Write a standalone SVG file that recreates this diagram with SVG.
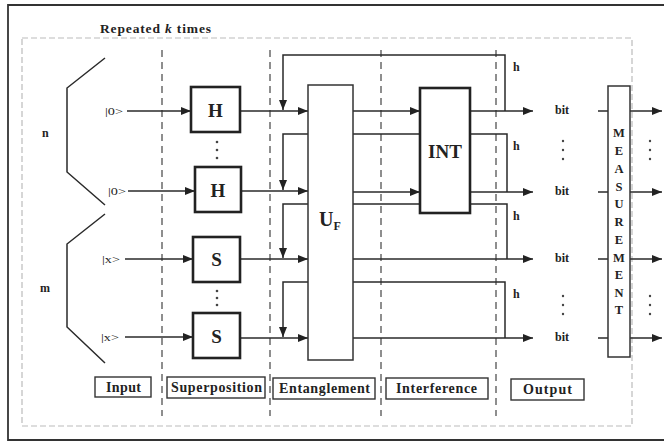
<svg xmlns="http://www.w3.org/2000/svg" width="664" height="441" viewBox="0 0 664 441">
<defs>
<marker id="ah" viewBox="0 0 10 8" refX="10" refY="4" markerWidth="10" markerHeight="8" markerUnits="userSpaceOnUse" orient="auto">
<path d="M0,0 L10,4 L0,8 Z" fill="#222"/>
</marker>
<style>
.ln{fill:none;stroke:#2a2a2a;stroke-width:1.5}
.dash{fill:none;stroke:#444;stroke-width:1.2;stroke-dasharray:7,5}
.frame{fill:none;stroke:#bbb;stroke-width:1.2;stroke-dasharray:6,3}
.gate{fill:#fff;stroke:#222;stroke-width:2.6}
.box{fill:#fff;stroke:#333;stroke-width:1.5}
.lbl{fill:#fff;stroke:#333;stroke-width:1.4}
.t{font-family:"Liberation Serif",serif;font-weight:bold;fill:#222}
.r{font-family:"Liberation Serif",serif;fill:#222}
.dot{fill:#444}
</style>
</defs>
<rect x="0" y="0" width="664" height="441" fill="#fff"/>
<path d="M670,5 H8 V440 H670" fill="none" stroke="#333" stroke-width="1.8"/>
<rect x="22" y="38" width="610" height="388" class="frame"/>
<text x="100" y="33" class="t" font-size="13.5" textLength="111" lengthAdjust="spacing">Repeated <tspan font-style="italic">k</tspan> times</text>

<g id="stage-dividers">
<line x1="162" y1="50" x2="162" y2="416" class="dash"/>
<line x1="270" y1="50" x2="270" y2="416" class="dash"/>
<line x1="381" y1="50" x2="381" y2="416" class="dash"/>
<line x1="496" y1="50" x2="496" y2="416" class="dash"/>
</g>

<g id="brackets">
<polyline points="105,58 67,88 67,172 105,205" class="ln"/>
<polyline points="105,214 67,244 67,327 105,363" class="ln"/>
<text x="42" y="137" class="t" font-size="12">n</text>
<text x="40" y="292" class="t" font-size="12">m</text>
</g>

<g id="connectors">
<line x1="127" y1="111" x2="191" y2="111" class="ln" marker-end="url(#ah)"/>
<line x1="128" y1="191" x2="195" y2="191" class="ln" marker-end="url(#ah)"/>
<line x1="125" y1="259" x2="193" y2="259" class="ln" marker-end="url(#ah)"/>
<line x1="125" y1="337" x2="193" y2="337" class="ln" marker-end="url(#ah)"/>
<path d="M505,111 V55 H283 V110" class="ln" marker-end="url(#ah)"/>
<path d="M507,192 V134 H283 V190" class="ln" marker-end="url(#ah)"/>
<path d="M507,259 V204 H283 V258" class="ln" marker-end="url(#ah)"/>
<path d="M505,338 V282 H283 V337" class="ln" marker-end="url(#ah)"/>
<line x1="240" y1="111" x2="308" y2="111" class="ln" marker-end="url(#ah)"/>
<line x1="241" y1="191" x2="308" y2="191" class="ln" marker-end="url(#ah)"/>
<line x1="240" y1="259" x2="308" y2="259" class="ln" marker-end="url(#ah)"/>
<line x1="240" y1="338" x2="308" y2="338" class="ln" marker-end="url(#ah)"/>
<line x1="353" y1="111" x2="420" y2="111" class="ln" marker-end="url(#ah)"/>
<line x1="353" y1="192" x2="420" y2="192" class="ln" marker-end="url(#ah)"/>
<line x1="470" y1="111" x2="533" y2="111" class="ln" marker-end="url(#ah)"/>
<line x1="470" y1="192" x2="533" y2="192" class="ln" marker-end="url(#ah)"/>
<line x1="353" y1="259" x2="533" y2="259" class="ln" marker-end="url(#ah)"/>
<line x1="353" y1="338" x2="533" y2="338" class="ln" marker-end="url(#ah)"/>
<line x1="598" y1="111" x2="608" y2="111" class="ln"/>
<line x1="598" y1="192" x2="608" y2="192" class="ln"/>
<line x1="598" y1="259" x2="608" y2="259" class="ln"/>
<line x1="598" y1="338" x2="608" y2="338" class="ln"/>
<line x1="630" y1="111" x2="662" y2="111" class="ln" marker-end="url(#ah)"/>
<line x1="630" y1="192" x2="662" y2="192" class="ln" marker-end="url(#ah)"/>
<line x1="630" y1="259" x2="662" y2="259" class="ln" marker-end="url(#ah)"/>
<line x1="630" y1="338" x2="662" y2="338" class="ln" marker-end="url(#ah)"/>
<text x="513" y="71" class="t" font-size="12">h</text>
<text x="513" y="150" class="t" font-size="12">h</text>
<text x="513" y="220" class="t" font-size="12">h</text>
<text x="513" y="298" class="t" font-size="12">h</text>
</g>

<g id="inputs">
<text x="105" y="115" class="r" font-size="11" textLength="18" lengthAdjust="spacingAndGlyphs">|0&gt;</text>
<text x="108" y="195" class="r" font-size="11" textLength="18" lengthAdjust="spacingAndGlyphs">|0&gt;</text>
<text x="102" y="263" class="r" font-size="11" textLength="18" lengthAdjust="spacingAndGlyphs">|x&gt;</text>
<text x="101" y="341" class="r" font-size="11" textLength="18" lengthAdjust="spacingAndGlyphs">|x&gt;</text>
</g>

<g id="H1"><rect x="191" y="87" width="49" height="45" class="gate"/><text x="215.5" y="117" text-anchor="middle" class="t" font-size="19">H</text></g>
<g id="H2"><rect x="195" y="167" width="46" height="45" class="gate"/><text x="218" y="197" text-anchor="middle" class="t" font-size="19">H</text></g>
<g id="S1"><rect x="193" y="237" width="47" height="45" class="gate"/><text x="216.5" y="266" text-anchor="middle" class="t" font-size="19">S</text></g>
<g id="S2"><rect x="193" y="313" width="47" height="45" class="gate"/><text x="216.5" y="343" text-anchor="middle" class="t" font-size="19">S</text></g>
<g id="dots-gates">
<circle cx="217" cy="142" r="1.3" class="dot"/><circle cx="217" cy="150" r="1.3" class="dot"/><circle cx="217" cy="158" r="1.3" class="dot"/>
<circle cx="217" cy="291" r="1.3" class="dot"/><circle cx="217" cy="298" r="1.3" class="dot"/><circle cx="217" cy="305" r="1.3" class="dot"/>
</g>

<g id="UF"><rect x="308" y="85" width="45" height="275" class="box"/><text x="319" y="226" class="t" font-size="20">U<tspan font-size="12" dy="4">F</tspan></text></g>
<g id="INT"><rect x="420" y="88" width="50" height="125" class="gate"/><text x="445" y="158" text-anchor="middle" class="t" font-size="19">INT</text></g>

<g id="bits">
<text x="555" y="114" class="t" font-size="12">bit</text>
<text x="555" y="195" class="t" font-size="12">bit</text>
<text x="555" y="262" class="t" font-size="12">bit</text>
<text x="555" y="341" class="t" font-size="12">bit</text>
<circle cx="563" cy="141" r="1.2" class="dot"/><circle cx="563" cy="150" r="1.2" class="dot"/><circle cx="563" cy="159" r="1.2" class="dot"/>
<circle cx="563" cy="296" r="1.2" class="dot"/><circle cx="563" cy="305" r="1.2" class="dot"/><circle cx="563" cy="314" r="1.2" class="dot"/>
<circle cx="650" cy="141" r="1.2" class="dot"/><circle cx="650" cy="150" r="1.2" class="dot"/><circle cx="650" cy="159" r="1.2" class="dot"/>
<circle cx="650" cy="296" r="1.2" class="dot"/><circle cx="650" cy="305" r="1.2" class="dot"/><circle cx="650" cy="314" r="1.2" class="dot"/>
</g>

<g id="measurement">
<rect x="608" y="86" width="22" height="271" class="box"/>
<g class="t" font-size="12.5" text-anchor="middle">
<text x="619" y="137">M</text><text x="619" y="155">E</text><text x="619" y="173">A</text><text x="619" y="191">S</text><text x="619" y="208">U</text><text x="619" y="226">R</text><text x="619" y="244">E</text><text x="619" y="262">M</text><text x="619" y="279">E</text><text x="619" y="297">N</text><text x="619" y="314">T</text>
</g>
</g>

<g id="stage-labels">
<g id="lbl-input"><rect x="95" y="377" width="56" height="20" class="lbl"/><text x="106" y="392" class="t" font-size="14" textLength="35" lengthAdjust="spacing">Input</text></g>
<g id="lbl-superposition"><rect x="167" y="377" width="98" height="21" class="lbl"/><text x="171" y="392" class="t" font-size="14" textLength="91" lengthAdjust="spacing">Superposition</text></g>
<g id="lbl-entanglement"><rect x="273" y="378" width="102" height="21" class="lbl"/><text x="279" y="393" class="t" font-size="14" textLength="91" lengthAdjust="spacing">Entanglement</text></g>
<g id="lbl-interference"><rect x="386" y="378" width="102" height="21" class="lbl"/><text x="396" y="393" class="t" font-size="14" textLength="81" lengthAdjust="spacing">Interference</text></g>
<g id="lbl-output"><rect x="511" y="379" width="73" height="21" class="lbl"/><text x="523" y="394" class="t" font-size="14" textLength="49" lengthAdjust="spacing">Output</text></g>
</g>
</svg>
